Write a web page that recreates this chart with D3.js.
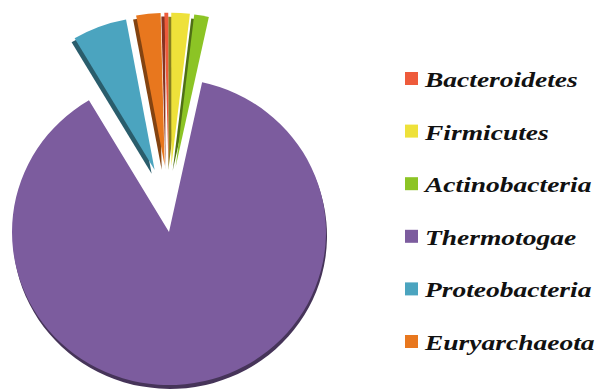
<!DOCTYPE html>
<html>
<head>
<meta charset="utf-8">
<script src="https://cdn.jsdelivr.net/npm/d3@7"></script>
<style>
  body { margin: 0; background: #fff; }
  svg { display: block; }
  .legend-label { font-family: "Times New Roman", "Liberation Serif", Tinos, serif; font-style: italic; font-weight: bold; font-size: 22px; fill: #111; }
</style>
</head>
<body>
<div id="chart"></div>
<script>
// phyla, in pie order (clockwise from 12 o'clock)
const phyla = ["Bacteroidetes", "Firmicutes", "Actinobacteria", "Thermotogae", "Proteobacteria", "Euryarchaeota"];
const shares = [0.4, 1.9, 1.5, 88.1, 5.6, 2.5]; // percent
const colors = ["#EE5B3B", "#EEE13A", "#8CC425", "#7C5C9E", "#4BA4BF", "#E8771E"];
const exploded = [true, true, true, false, true, true];

const width = 596, height = 392;
const cx = 169, cy = 232, radius = 157, squash = 0.975;
const explodeDist = 68;
const explodeKx = 0.6; // perspective: pulled-out slices move mostly upward
const startAt = -1.5 * Math.PI / 180;

const data = phyla.map((name, i) => ({name, value: shares[i], color: colors[i], exploded: exploded[i]}));

const svg = d3.select('#chart').append('svg')
  .attr('width', width)
  .attr('height', height);

const pie = d3.pie()
  .value(d => d.value)
  .sort(null)
  .startAngle(startAt)
  .endAngle(2 * Math.PI + startAt);

const arc = d3.arc()
  .innerRadius(0)
  .outerRadius(radius);

const arcs = pie(data);

const g = svg.append('g')
  .attr('transform', `translate(${cx},${cy}) scale(1,${squash})`);

// offset of each slice away from the centre
function shift(d) {
  if (!d.data.exploded) return [0, 0];
  const mid = (d.startAngle + d.endAngle) / 2;
  return [Math.sin(mid) * explodeDist * explodeKx, -Math.cos(mid) * explodeDist];
}

// dark "side" of the slices (fake 3D depth)
g.selectAll('path.side')
  .data(arcs)
  .join('path')
  .attr('class', 'side')
  .attr('d', arc)
  .attr('fill', d => d3.color(d.data.color).darker(1.6))
  .attr('transform', d => {
    const [x, y] = shift(d);
    const dx = d.data.exploded ? -3 : 1;
    return `translate(${x + dx},${y + 4})`;
  });

g.selectAll('path.slice')
  .data(arcs)
  .join('path')
  .attr('class', 'slice')
  .attr('d', arc)
  .attr('fill', d => d.data.color)
  .attr('transform', d => {
    const [x, y] = shift(d);
    return `translate(${x},${y})`;
  });

// legend
const legend = svg.append('g')
  .attr('transform', 'translate(405,78.5)');

const rows = legend.selectAll('g')
  .data(data)
  .join('g')
  .attr('transform', (d, i) => `translate(0,${i * 52.6})`);

rows.append('rect')
  .attr('x', 0)
  .attr('y', -6.5)
  .attr('width', 13)
  .attr('height', 13)
  .attr('fill', d => d.color);

// the source image is stretched sideways, so the labels are too
rows.append('text')
  .attr('class', 'legend-label')
  .attr('transform', 'translate(20,8.5) scale(1.25,1)')
  .text(d => d.name);
</script>
</body>
</html>
